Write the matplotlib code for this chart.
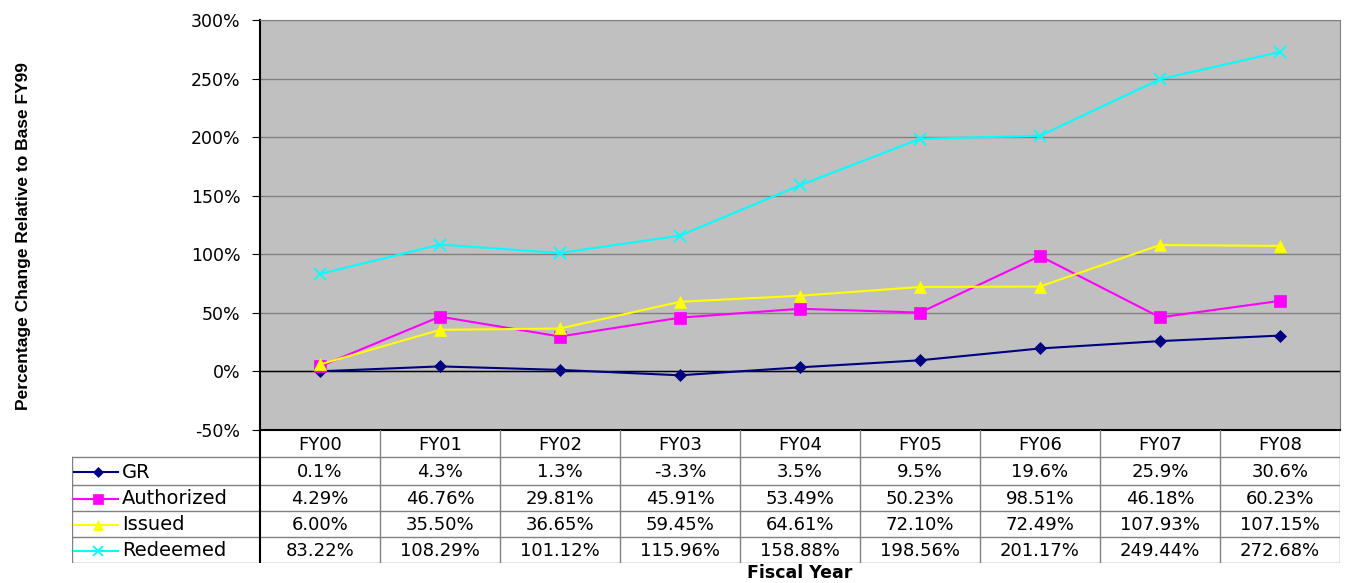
import matplotlib
matplotlib.use("Agg")
import matplotlib.pyplot as plt
from matplotlib.ticker import FuncFormatter, MultipleLocator

years = ["FY00", "FY01", "FY02", "FY03", "FY04", "FY05", "FY06", "FY07", "FY08"]
series_names = ["GR", "Authorized", "Issued", "Redeemed"]
gr = [0.1, 4.3, 1.3, -3.3, 3.5, 9.5, 19.6, 25.9, 30.6]
authorized = [4.29, 46.76, 29.81, 45.91, 53.49, 50.23, 98.51, 46.18, 60.23]
issued = [6.00, 35.50, 36.65, 59.45, 64.61, 72.10, 72.49, 107.93, 107.15]
redeemed = [83.22, 108.29, 101.12, 115.96, 158.88, 198.56, 201.17, 249.44, 272.68]
gr_labels = ["0.1%", "4.3%", "1.3%", "-3.3%", "3.5%", "9.5%", "19.6%", "25.9%", "30.6%"]
auth_labels = ["4.29%", "46.76%", "29.81%", "45.91%", "53.49%", "50.23%", "98.51%", "46.18%", "60.23%"]
iss_labels = ["6.00%", "35.50%", "36.65%", "59.45%", "64.61%", "72.10%", "72.49%", "107.93%", "107.15%"]
red_labels = ["83.22%", "108.29%", "101.12%", "115.96%", "158.88%", "198.56%", "201.17%", "249.44%", "272.68%"]

plt.rcParams['font.family'] = ['DejaVu Sans']

W, H = 1346, 583
fig = plt.figure(figsize=(W / 100, H / 100), dpi=100)

pl, pr, pt, pb = 260, 1340, 20, 430
ax = fig.add_axes([pl / W, 1 - pb / H, (pr - pl) / W, (pb - pt) / H])
ax.set_facecolor("#C0C0C0")
ax.set_xlim(-0.5, len(years) - 0.5)
ax.set_ylim(-50, 300)
ax.yaxis.set_major_locator(MultipleLocator(50))
ax.yaxis.set_major_formatter(FuncFormatter(lambda v, p: f"{int(round(v))}%"))
ax.grid(axis="y", color="#808080", linewidth=1)
ax.set_axisbelow(True)
ax.axhline(0, color="black", linewidth=1, zorder=1.5)
ax.set_xticks([])
ax.tick_params(axis="y", direction="out", length=6, labelsize=12.5, pad=8)
for s in ["top", "right"]:
    ax.spines[s].set_color("#808080")
ax.spines["bottom"].set_color("black")
ax.spines["bottom"].set_linewidth(1.5)
ax.spines["left"].set_color("black")
ax.spines["left"].set_linewidth(1.5)

x = list(range(len(years)))
styles = [
    (gr, "#000080", "D", 6, 1.5),
    (authorized, "#FF00FF", "s", 8, 1.5),
    (issued, "#FFFF00", "^", 8, 1.5),
    (redeemed, "#00FFFF", "x", 8, 1.5),
]
for vals, c, m, ms, lw in styles:
    ax.plot(x, vals, color=c, marker=m, markersize=ms, linewidth=lw,
            markeredgewidth=1.3 if m == "x" else 0.5, markeredgecolor=c, zorder=3)

ax.set_ylabel("Percentage Change Relative to Base FY99", fontsize=12.5, fontweight="bold",
              family=["Liberation Sans"], labelpad=0)
ax.yaxis.set_label_coords(-(pl - 31) / (pr - pl), (pb - 236) / (pb - pt))

tl, tr, tt, tb = 72, 1340, 430, 563
tax = fig.add_axes([tl / W, 1 - tb / H, (tr - tl) / W, (tb - tt) / H])
tax.set_xlim(tl, tr)
tax.set_ylim(tb, tt)
tax.axis("off")
colw = (pr - pl) / len(years)
row_edges = [430, 457, 485, 511, 537, 563]
grey = "#808080"
for yv in row_edges[1:]:
    tax.plot([tl, tr], [yv, yv], color=grey, lw=1)
tax.plot([tl, tl], [row_edges[1], row_edges[-1]], color=grey, lw=1)
tax.plot([pl, pl], [row_edges[0], row_edges[-1]], color="black", lw=1.5)
for i in range(1, len(years) + 1):
    xv = pl + i * colw
    tax.plot([xv, xv], [row_edges[0], row_edges[-1]], color=grey, lw=1)

for i, yr in enumerate(years):
    tax.text(pl + (i + 0.5) * colw, (row_edges[0] + row_edges[1]) / 2 + 1, yr,
             ha="center", va="center", fontsize=13)

all_labels = [gr_labels, auth_labels, iss_labels, red_labels]
for r, (name, labs, st) in enumerate(zip(series_names, all_labels, styles)):
    yc = (row_edges[r + 1] + row_edges[r + 2]) / 2 + 1
    c, m = st[1], st[2]
    tax.plot([74, 118], [yc, yc], color=c, lw=1.5)
    tax.plot([98], [yc], marker=m, color=c, markersize=st[3] - 1,
             markeredgewidth=1.3 if m == "x" else 0.5, markeredgecolor=c)
    tax.text(122, yc, name, ha="left", va="center", fontsize=14)
    for i, lab in enumerate(labs):
        tax.text(pl + (i + 0.5) * colw, yc, lab, ha="center", va="center", fontsize=13)

fig.text((pl + pr) / 2 / W, 1 - 573 / H, "Fiscal Year", ha="center", va="center",
         fontsize=12.5, fontweight="bold")

fig.savefig("out.png", dpi=100, facecolor="white")
